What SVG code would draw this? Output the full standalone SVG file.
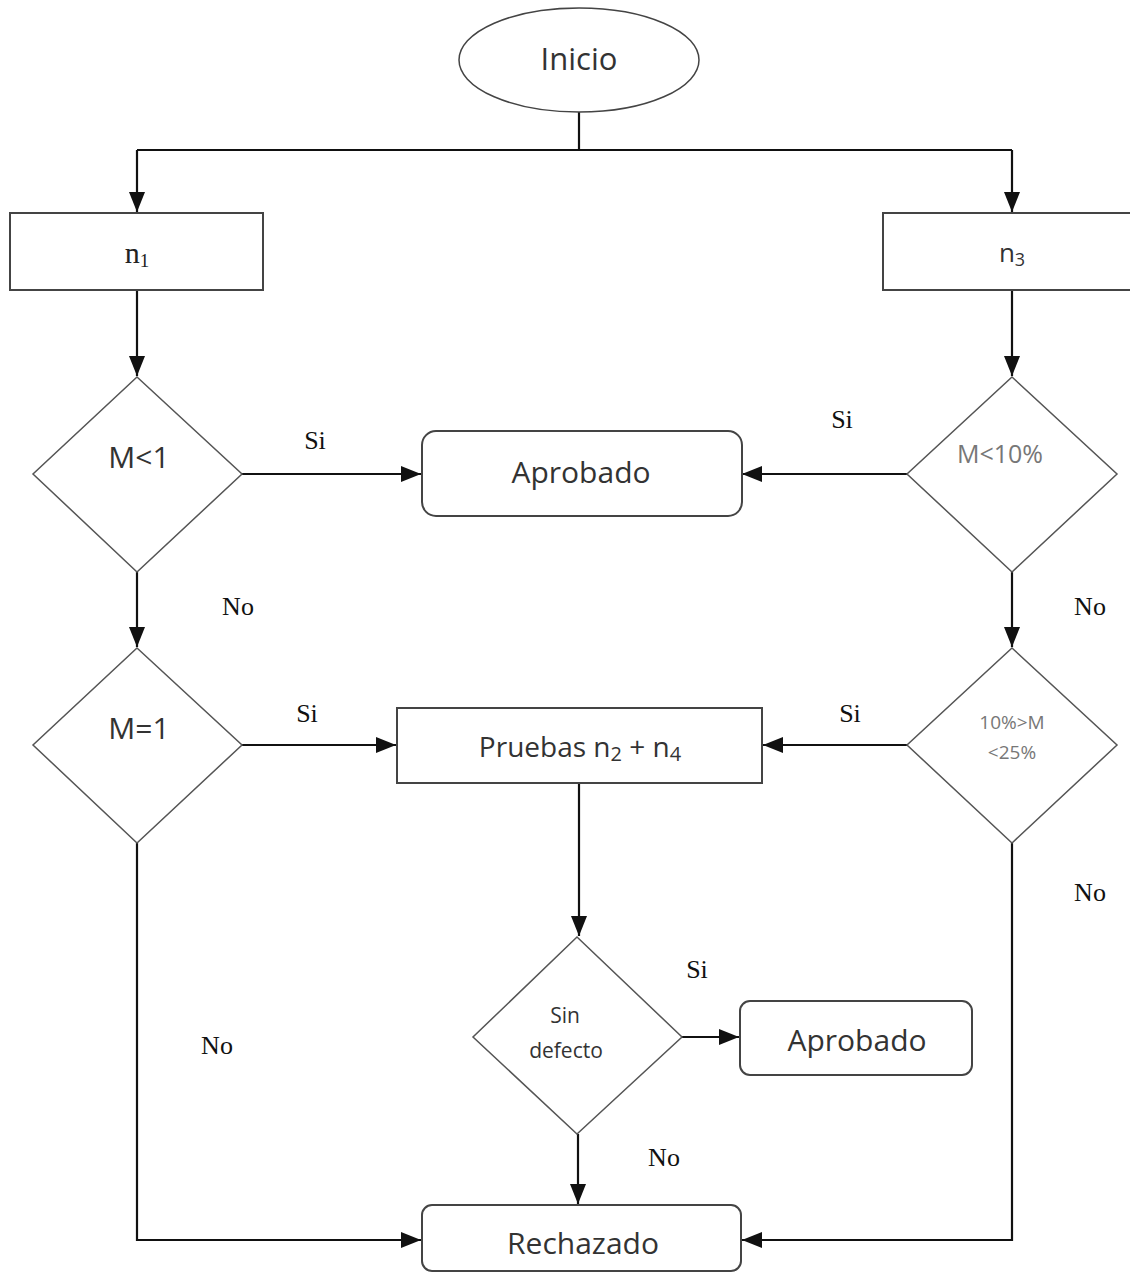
<svg xmlns="http://www.w3.org/2000/svg" width="1130" height="1273" viewBox="0 0 1130 1273">
<style>
.shape{fill:#fff;stroke:#444;stroke-width:2}
.dia{fill:#fff;stroke:#555;stroke-width:1.5}
.conn{fill:none;stroke:#111;stroke-width:2.2}
.t{font-family:"Open Sans","Noto Sans",sans-serif;fill:#333;text-anchor:middle}
.lbl{font-family:"Liberation Serif",serif;fill:#111;font-size:26px;text-anchor:middle}
.g{fill:#777}
</style>
<defs>
<marker id="ah" markerWidth="20" markerHeight="16" refX="20" refY="8" orient="auto" markerUnits="userSpaceOnUse" viewBox="0 0 20 16">
<path d="M0,0 L20,8 L0,16 z" fill="#111"/>
</marker>
</defs>
<rect width="1130" height="1273" fill="#fff"/>
<g id="connectors">
<path class="conn" d="M579,112 V150"/>
<path class="conn" d="M137,150 H1012"/>
<path class="conn" d="M137,150 V212" marker-end="url(#ah)"/>
<path class="conn" d="M1012,150 V212" marker-end="url(#ah)"/>
<path class="conn" d="M137,290 V376" marker-end="url(#ah)"/>
<path class="conn" d="M1012,290 V376" marker-end="url(#ah)"/>
<path class="conn" d="M242,474 H421" marker-end="url(#ah)"/>
<path class="conn" d="M907,474 H742" marker-end="url(#ah)"/>
<path class="conn" d="M137,572 V647" marker-end="url(#ah)"/>
<path class="conn" d="M1012,572 V647" marker-end="url(#ah)"/>
<path class="conn" d="M242,745 H396" marker-end="url(#ah)"/>
<path class="conn" d="M907,745 H763" marker-end="url(#ah)"/>
<path class="conn" d="M579,783 V936" marker-end="url(#ah)"/>
<path class="conn" d="M682,1037 H739" marker-end="url(#ah)"/>
<path class="conn" d="M578,1134 V1204" marker-end="url(#ah)"/>
<path class="conn" d="M137,843 V1240 H421" marker-end="url(#ah)"/>
<path class="conn" d="M1012,843 V1240 H742" marker-end="url(#ah)"/>
<text class="lbl" x="315" y="449">Si</text>
<text class="lbl" x="842" y="428">Si</text>
<text class="lbl" x="238" y="615">No</text>
<text class="lbl" x="1090" y="615">No</text>
<text class="lbl" x="307" y="722">Si</text>
<text class="lbl" x="850" y="722">Si</text>
<text class="lbl" x="1090" y="901">No</text>
<text class="lbl" x="697" y="978">Si</text>
<text class="lbl" x="217" y="1054">No</text>
<text class="lbl" x="664" y="1166">No</text>
</g>
<g id="inicio">
<ellipse class="shape" cx="579" cy="60" rx="120" ry="52" style="stroke-width:1.5"/>
<text class="t" x="579" y="70" font-size="31">Inicio</text>
</g>
<g id="n1">
<rect class="shape" x="10" y="213" width="253" height="77"/>
<text x="137" y="263" font-family="Liberation Serif,serif" font-size="30" fill="#222" text-anchor="middle">n<tspan font-size="19" dy="4">1</tspan></text>
</g>
<g id="n3">
<rect class="shape" x="883" y="213" width="250" height="77"/>
<text class="t" x="1012" y="262" font-size="26">n<tspan font-size="18" dy="4">3</tspan></text>
</g>
<g id="m-lt-1">
<polygon class="dia" points="137,377 242,474 137,572 33,474"/>
<text class="t" x="139" y="468" font-size="30">M&lt;1</text>
</g>
<g id="m-lt-10">
<polygon class="dia" points="1012,377 1117,474 1012,572 907,474"/>
<text class="t g" x="1000" y="463" font-size="25">M&lt;10%</text>
</g>
<g id="aprobado1">
<rect class="shape" x="422" y="431" width="320" height="85" rx="14"/>
<text class="t" x="581" y="483" font-size="30">Aprobado</text>
</g>
<g id="m-eq-1">
<polygon class="dia" points="137,648 242,745 137,843 33,745"/>
<text class="t" x="139" y="739" font-size="30">M=1</text>
</g>
<g id="m-range">
<polygon class="dia" points="1012,648 1117,745 1012,843 907,745"/>
<text class="t g" x="1012" y="729" font-size="19">10%&gt;M</text>
<text class="t g" x="1012" y="759" font-size="19">&lt;25%</text>
</g>
<g id="pruebas">
<rect class="shape" x="397" y="708" width="365" height="75"/>
<text class="t" x="580" y="757" font-size="28">Pruebas n<tspan font-size="20" dy="4">2</tspan><tspan dy="-4"> + n</tspan><tspan font-size="20" dy="4">4</tspan></text>
</g>
<g id="sin-defecto">
<polygon class="dia" points="577,937 682,1037 577,1134 473,1037"/>
<text class="t" x="565" y="1023" font-size="21">Sin</text>
<text class="t" x="566" y="1058" font-size="21">defecto</text>
</g>
<g id="aprobado2">
<rect class="shape" x="740" y="1001" width="232" height="74" rx="10"/>
<text class="t" x="857" y="1051" font-size="30">Aprobado</text>
</g>
<g id="rechazado">
<rect class="shape" x="422" y="1205" width="319" height="66" rx="10"/>
<text class="t" x="583" y="1254" font-size="30">Rechazado</text>
</g>
</svg>
